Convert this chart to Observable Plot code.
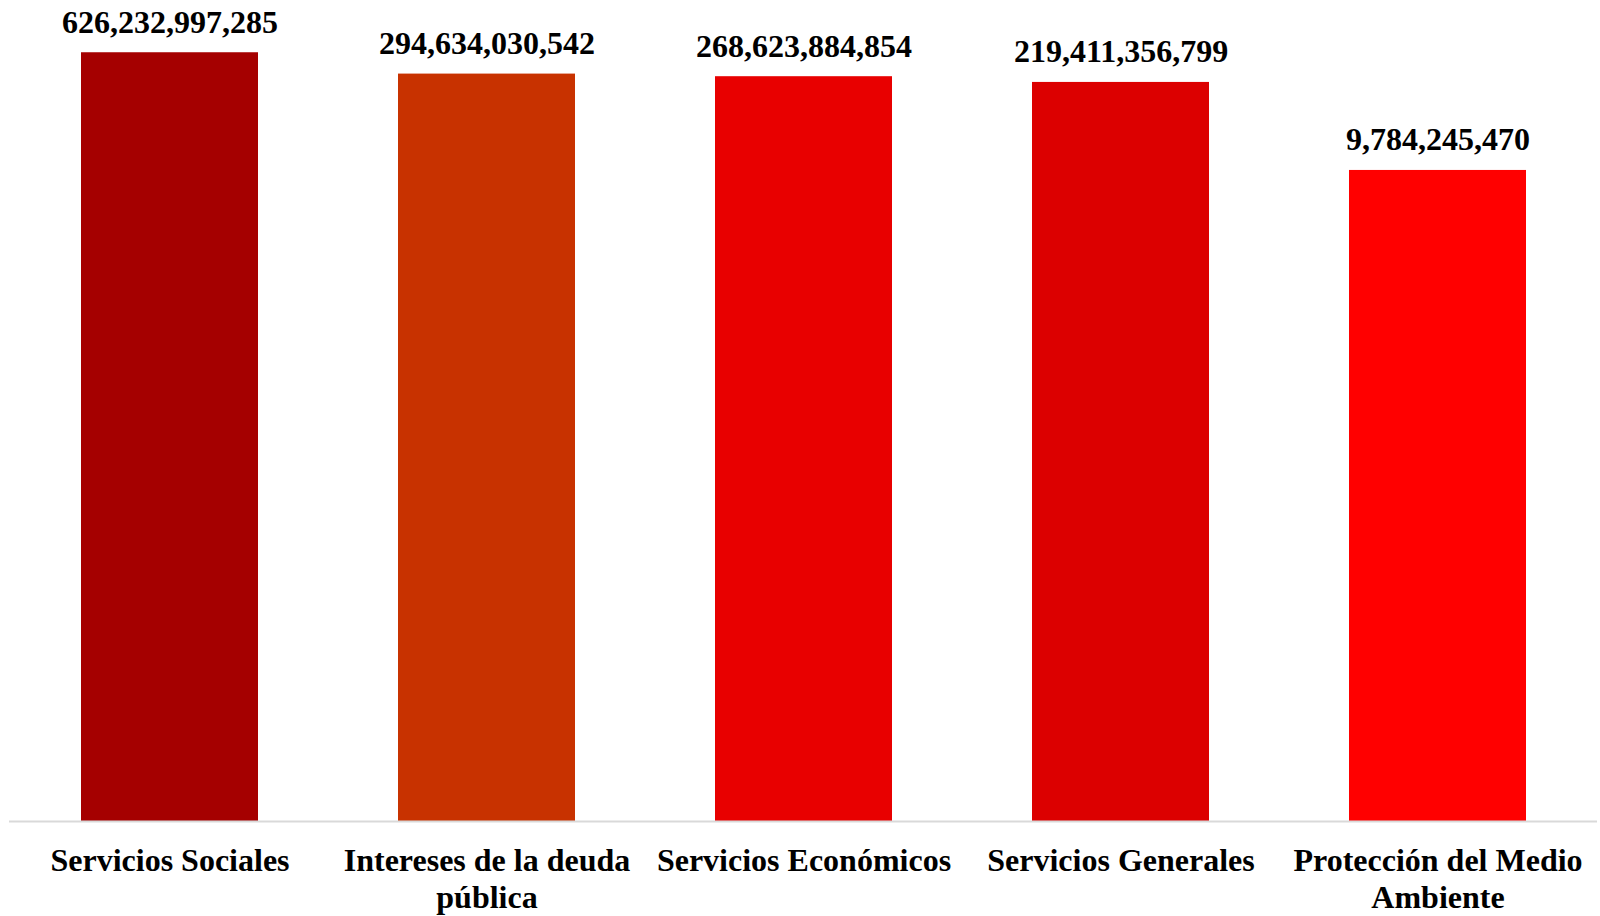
<!DOCTYPE html>
<html>
<head>
<meta charset="utf-8">
<script src="https://cdn.jsdelivr.net/npm/d3@7"></script>
<script src="https://cdn.jsdelivr.net/npm/@observablehq/plot@0.6"></script>
<style>
  html, body { margin: 0; padding: 0; background: #fff; }
  #chart svg { display: block; }
</style>
</head>
<body>
<div id="chart"></div>
<script>
const categories = ["Servicios Sociales", "Intereses de la deuda pública", "Servicios Económicos", "Servicios Generales", "Protección del Medio Ambiente"];
const tickLabels = ["Servicios Sociales", "Intereses de la deuda\npública", "Servicios Económicos", "Servicios Generales", "Protección del Medio\nAmbiente"];
const values = [626232997285, 294634030542, 268623884854, 219411356799, 9784245470];
const colors = ["#a50000", "#c83200", "#e80000", "#dc0000", "#ff0000"];

const data = categories.map((c, i) => ({category: c, value: values[i], color: colors[i]}));
const labelOf = new Map(categories.map((c, i) => [c, tickLabels[i]]));
const fmt = d3.format(",");

const chart = Plot.plot({
  width: 1600,
  height: 916,
  marginLeft: 9,
  marginRight: 3,
  marginTop: 39,
  marginBottom: 95,
  style: {fontFamily: "'Liberation Serif', 'Times New Roman', serif", background: "#fff", overflow: "visible"},
  x: {domain: categories, paddingInner: 0.443, paddingOuter: 0.2215, label: null},
  y: {type: "log", domain: [1, 1e12], axis: null},
  color: {type: "identity"},
  marks: [
    Plot.barY(data, {x: "category", y1: 1, y2: "value", fill: "color"}),
    Plot.ruleY([1], {stroke: "#d9d9d9", strokeWidth: 2}),
    Plot.text(data, {x: "category", y: "value", text: d => fmt(d.value), lineAnchor: "bottom", dy: -20, fontSize: 32, fontWeight: "bold", fill: "#000"}),
    Plot.axisX({tickSize: 0, tickPadding: 24, fontSize: 32, fontWeight: "bold", lineHeight: 1.14, tickFormat: d => labelOf.get(d), color: "#000", label: null})
  ]
});
chart.querySelectorAll("text").forEach(t => t.setAttribute("fill", "#000"));
document.getElementById("chart").appendChild(chart);
</script>
</body>
</html>
